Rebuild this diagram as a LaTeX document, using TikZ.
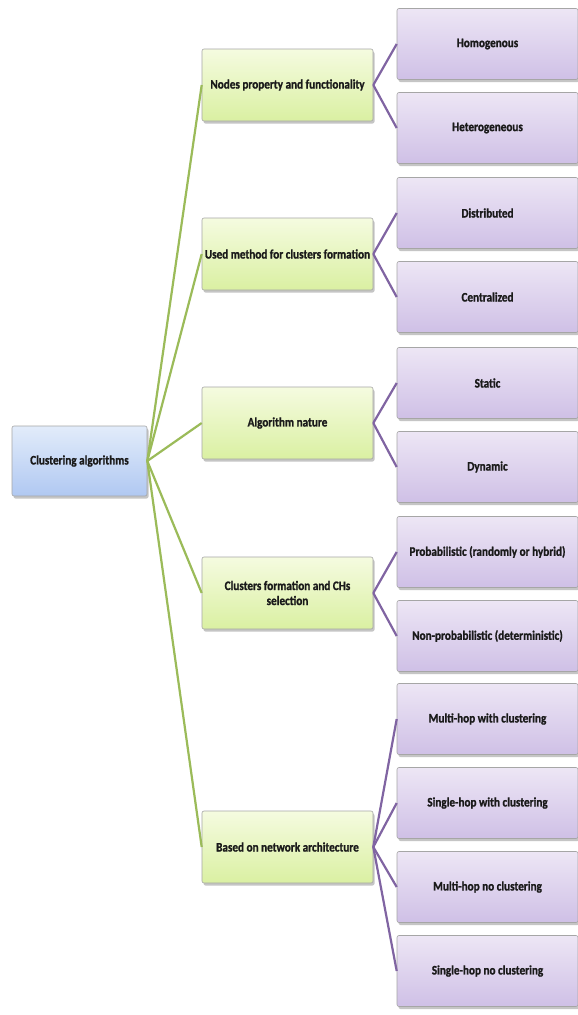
\documentclass[tikz,border=0pt]{standalone}
\usepackage{fontspec}
\setmainfont{Carlito}
\newfontfamily\condfont[FakeStretch=0.86,FakeBold=1.2]{Carlito}
\usetikzlibrary{shadows}
\definecolor{grn}{HTML}{9BBB59}
\definecolor{prp}{HTML}{8064A2}
\definecolor{leaftop}{HTML}{EDE6F5}
\definecolor{leafbot}{HTML}{CFC0E6}
\definecolor{midtop}{HTML}{F5FBE0}
\definecolor{midbot}{HTML}{DAF0A2}
\definecolor{roottop}{HTML}{E2ECFA}
\definecolor{rootbot}{HTML}{B0C8F2}
\definecolor{txt}{HTML}{1A1A1A}
\tikzset{
  box/.style={rounded corners=2pt, draw=black!35, line width=0.6pt, align=center,
    font=\condfont\bfseries\fontsize{13}{15}\selectfont, text=txt, inner sep=1pt,
    drop shadow={shadow xshift=1.5pt, shadow yshift=-2.5pt, fill=black!45, opacity=0.5}},
  leafbox/.style={box, minimum width=181pt, minimum height=71pt, top color=leaftop, bottom color=leafbot},
  midbox/.style={box, minimum width=171pt, minimum height=72pt, top color=midtop, bottom color=midbot},
  rootbox/.style={box, minimum width=135pt, minimum height=70pt, top color=roottop, bottom color=rootbot},
  gline/.style={draw=grn, line width=2.2pt},
  pline/.style={draw=prp, line width=2.2pt},
}
\begin{document}
\begin{tikzpicture}[x=1pt,y=-1pt]
\useasboundingbox (0,0) rectangle (578,1015);
\fill[white] (0,0) rectangle (578,1015);
% root
\node[rootbox] (root) at (79.5,461) {Clustering algorithms};
% mid
\node[midbox] (m1) at (287.5,85) {Nodes property and functionality};
\node[midbox] (m2) at (287.5,254) {Used method for clusters formation};
\node[midbox] (m3) at (287.5,423) {Algorithm nature};
\node[midbox] (m4) at (287.5,593) {Clusters formation and CHs\\selection};
\node[midbox] (m5) at (287.5,847) {Based on network architecture};
% leaves
\node[leafbox] (l1) at (487.5,44) {Homogenous};
\node[leafbox] (l2) at (487.5,128) {Heterogeneous};
\node[leafbox] (l3) at (487.5,213) {Distributed};
\node[leafbox] (l4) at (487.5,297) {Centralized};
\node[leafbox] (l5) at (487.5,383) {Static};
\node[leafbox] (l6) at (487.5,467) {Dynamic};
\node[leafbox] (l7) at (487.5,552) {Probabilistic (randomly or hybrid)};
\node[leafbox] (l8) at (487.5,636) {Non-probabilistic (deterministic)};
\node[leafbox] (l9) at (487.5,719) {Multi-hop with clustering};
\node[leafbox] (l10) at (487.5,803) {Single-hop with clustering};
\node[leafbox] (l11) at (487.5,887) {Multi-hop no clustering};
\node[leafbox] (l12) at (487.5,971) {Single-hop no clustering};
% connectors
\foreach \m in {m1,m2,m3,m4,m5} \draw[gline] (root.east) -- (\m.west);
\draw[pline] (m1.east) -- (l1.west); \draw[pline] (m1.east) -- (l2.west);
\draw[pline] (m2.east) -- (l3.west); \draw[pline] (m2.east) -- (l4.west);
\draw[pline] (m3.east) -- (l5.west); \draw[pline] (m3.east) -- (l6.west);
\draw[pline] (m4.east) -- (l7.west); \draw[pline] (m4.east) -- (l8.west);
\foreach \l in {l9,l10,l11,l12} \draw[pline] (m5.east) -- (\l.west);
\end{tikzpicture}
\end{document}
